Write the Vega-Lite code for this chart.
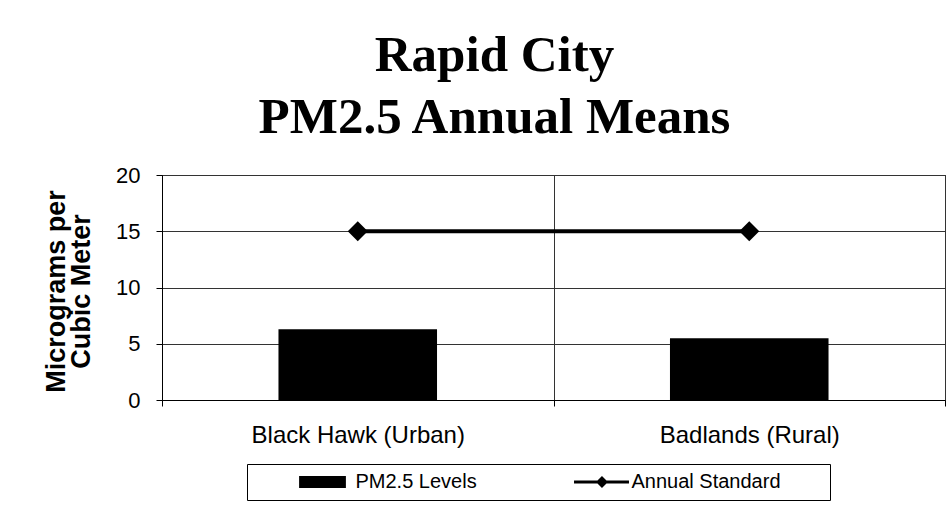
{
  "$schema": "https://vega.github.io/schema/vega-lite/v6.json",
  "width": 783,
  "height": 225,
  "autosize": {"type": "none"},
  "padding": {"left": 162, "top": 175, "right": 7, "bottom": 105},
  "background": "white",
  "title": {
    "text": ["Rapid City", "PM2.5 Annual Means"],
    "font": "Liberation Serif",
    "fontSize": 51,
    "fontWeight": "bold",
    "color": "black",
    "lineHeight": 62,
    "anchor": "middle",
    "frame": "group",
    "baseline": "bottom",
    "offset": 29,
    "dx": -59,
    "dy": 60
  },
  "data": {
    "values": [
      {"site": "Black Hawk (Urban)", "pm": 6.3, "std": 15},
      {"site": "Badlands (Rural)", "pm": 5.5, "std": 15}
    ]
  },
  "encoding": {
    "x": {
      "field": "site",
      "type": "nominal",
      "sort": null,
      "scale": {"paddingInner": 0, "paddingOuter": 0},
      "axis": {
        "title": null,
        "labelAngle": 0,
        "labelFont": "Liberation Sans",
        "labelFontSize": 24,
        "labelColor": "black",
        "labelLimit": 400,
        "labelPadding": 17,
        "tickSize": 6,
        "tickBand": "extent",
        "grid": true,
        "gridColor": "#333",
        "gridWidth": 1,
        "domainColor": "black",
        "tickColor": "black"
      }
    }
  },
  "layer": [
    {
      "mark": {"type": "bar", "width": {"band": 0.405}},
      "encoding": {
        "y": {
          "field": "pm",
          "type": "quantitative",
          "scale": {"domain": [0, 20], "nice": false},
          "axis": {
            "values": [0, 5, 10, 15, 20],
            "title": ["Micrograms per", "Cubic Meter"],
            "titleFont": "Liberation Sans",
            "titleFontWeight": "bold",
            "titleFontSize": 27,
            "titleLineHeight": 25,
            "titleColor": "black",
            "titleX": -98,
            "titleY": 116,
            "titleBaseline": "alphabetic",
            "titleAlign": "center",
            "labelFont": "Liberation Sans",
            "labelFontSize": 22,
            "labelColor": "black",
            "labelPadding": 16,
            "tickSize": 6,
            "grid": true,
            "gridColor": "#333",
            "gridWidth": 1,
            "domainColor": "black",
            "tickColor": "black"
          }
        },
        "color": {
          "datum": "PM2.5 Levels",
          "type": "nominal",
          "scale": {"domain": ["PM2.5 Levels", "Annual Standard"], "range": ["black", "black"]},
          "legend": {
            "orient": "none",
            "legendX": 85,
            "legendY": 289,
            "direction": "horizontal",
            "title": null,
            "strokeColor": "black",
            "padding": 8,
            "labelFont": "Liberation Sans",
            "labelFontSize": 20,
            "labelColor": "black",
            "labelLimit": 300,
            "symbolSize": 144,
            "symbolOffset": 57.5,
            "labelOffset": 23,
            "columnPadding": 54,
            "encode": {
              "symbols": {
                "update": {
                  "shape": {"signal": "datum.value === 'PM2.5 Levels' ? 'M-3.9,-1H3.9V1H-3.9Z' : 'M-4.08,-0.25H5.08V0.25H-4.08Z M0.58,-1L1.58,0L0.58,1L-0.42,0Z M37.25,0Z'"},
                  "fill": {"value": "black"},
                  "stroke": {"value": "black"},
                  "strokeWidth": {"value": 0},
                  "opacity": {"value": 1}
                }
              }
            }
          }
        }
      }
    },
    {
      "mark": {"type": "line", "color": "black", "strokeWidth": 4},
      "encoding": {
        "y": {"field": "std", "type": "quantitative"}
      }
    },
    {
      "mark": {"type": "point", "shape": "diamond", "size": 400, "filled": true, "color": "black", "opacity": 1},
      "encoding": {
        "y": {"field": "std", "type": "quantitative"}
      }
    }
  ],
  "config": {
    "view": {"stroke": "black", "strokeWidth": 1}
  }
}
